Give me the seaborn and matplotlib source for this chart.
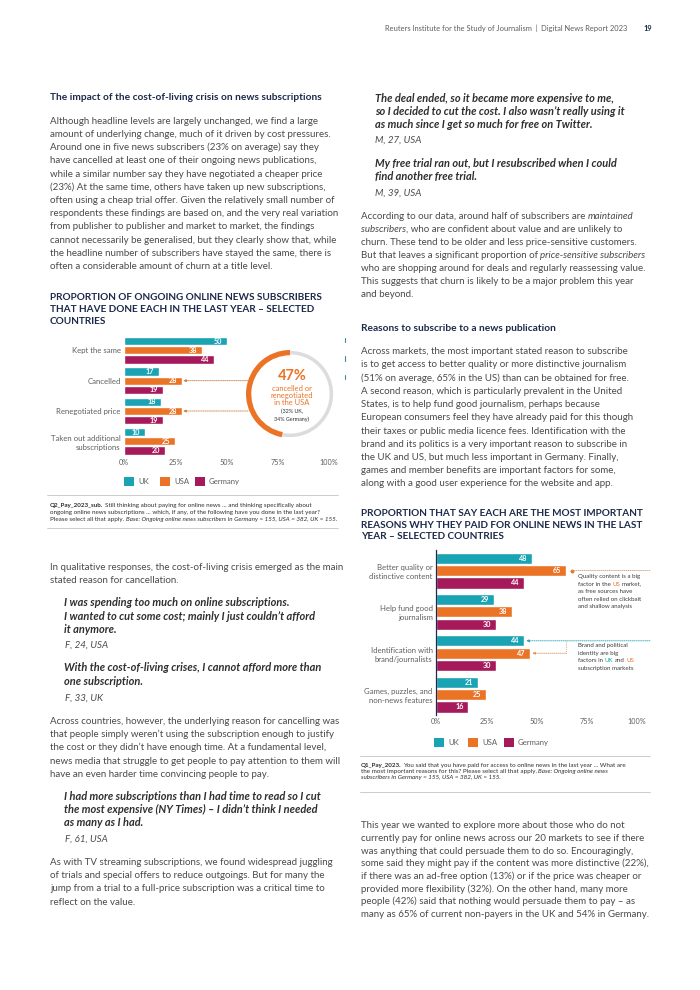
import numpy as np
import pandas as pd
import seaborn as sns
import matplotlib
matplotlib.use("Agg")
import matplotlib.pyplot as plt
import matplotlib.transforms as mtransforms
from matplotlib.patches import Rectangle, Wedge
from matplotlib.lines import Line2D

# page size in pixels (dpi 100)
W, H = 700, 990

# chart 1: what ongoing subscribers did in the last year
actions = ["Kept the same", "Cancelled", "Renegotiated price",
           "Taken out additional\nsubscriptions"]
countries = ["UK", "USA", "Germany"]
uk_actions = [50, 17, 18, 10]
usa_actions = [38, 28, 28, 25]
de_actions = [44, 19, 19, 20]
usa_churn = 47
uk_churn = 32
de_churn = 34

# chart 2: most important reasons for paying
reasons = ["Better quality or\ndistinctive content", "Help fund good\njournalism",
           "Identification with\nbrand/journalists", "Games, puzzles, and\nnon-news features"]
uk_reasons = [48, 29, 44, 21]
usa_reasons = [65, 38, 47, 25]
de_reasons = [44, 30, 30, 16]

x_ticks = [0, 25, 50, 75, 100]
x_tick_labels = ["0%", "25%", "50%", "75%", "100%"]

palette = {"UK": "#1aa3b3", "USA": "#eb7326", "Germany": "#a6195a"}
NAVY = "#1c2a4b"
BODY = "#4a4a4a"
QUOTE = "#2f2f2f"
GREY = "#5e5e5e"
RULE = "#c4c4c4"

# text sizes
BODY_SZ = 7.0
QUOTE_SZ = 7.9
HEAD_SZ = 7.3
TITLE_SZ = 7.2

sns.set_style("white")
plt.rcParams["font.family"] = ["Lato", "DejaVu Sans"]

fig = plt.figure(figsize=(W / 100, H / 100), dpi=100)
fig.patch.set_facecolor("white")
renderer = fig.canvas.get_renderer()


def fx(x):
    return x / W


def fy(y):
    return 1 - y / H


def put(x, y, s, size=BODY_SZ, color=BODY, weight="normal", style="normal", ha="left"):
    return fig.text(fx(x), fy(y + size * 0.45), s, fontsize=size, color=color,
                    fontweight=weight, fontstyle=style, ha=ha, va="baseline")


def ink_width(s, size, weight, style):
    t = fig.text(0, 0, s, fontsize=size, fontweight=weight, fontstyle=style)
    w = t.get_window_extent(renderer).width
    t.remove()
    return w


def advance(s, size, weight, style):
    # pen advance of a string, bearings included
    return ink_width(s + "n", size, weight, style) - ink_width("n", size, weight, style)


def rich(x, y, parts, size=BODY_SZ, color=BODY):
    # draw a line made of differently styled pieces, one after another
    for s, opts in parts:
        o = dict(color=color)
        o.update(opts)
        wt, st = o.get("weight", "normal"), o.get("style", "normal")
        n = len(s) - len(s.lstrip(" "))
        if n:
            sp = ink_width("n n", size, wt, st) - ink_width("nn", size, wt, st)
            x += n * sp
        s = s.lstrip(" ")
        put(x, y, s, size=size, **o)
        x += advance(s, size, wt, st)


def block(x, y0, step, lines, size=BODY_SZ, color=BODY, weight="normal", style="normal"):
    for i, ln in enumerate(lines):
        if isinstance(ln, list):
            rich(x, y0 + i * step, ln, size=size, color=color)
        else:
            put(x, y0 + i * step, ln, size=size, color=color, weight=weight, style=style)


def hline(x0, x1, y, color=RULE, lw=0.6):
    fig.add_artist(Line2D([fx(x0), fx(x1)], [fy(y), fy(y)], color=color, lw=lw))


def legend_row(xs, y):
    for x, lab in zip(xs, countries):
        fig.add_artist(Rectangle((fx(x), fy(y + 4.5)), 10 / W, 9 / H,
                                 transform=fig.transFigure, color=palette[lab], lw=0))
        put(x + 14, y, lab, size=5.6, color=GREY)


def bar_chart(ax, cats, uk, usa, de, key):
    df = pd.DataFrame({key: cats, "UK": uk, "USA": usa, "Germany": de})
    df = df.melt(id_vars=key, var_name="country", value_name="share")
    sns.barplot(data=df, x="share", y=key, hue="country", hue_order=countries,
                palette=palette, width=0.9, gap=0.1, saturation=1, legend=False, ax=ax)
    for cont in ax.containers:
        labels = ax.bar_label(cont, fmt="%d", padding=-3.5, color="white",
                              fontsize=5.2, fontweight="bold")
        for t in labels:
            t.set_ha("right")
    ax.set_xlim(0, 100)
    ax.set_ylim(len(cats) - 0.5, -0.5)
    ax.set_xticks(x_ticks, x_tick_labels)
    ax.set_xlabel("")
    ax.set_ylabel("")
    ax.tick_params(axis="x", length=0, pad=2, labelsize=5.2, labelcolor=GREY)
    ax.tick_params(axis="y", length=0, pad=2.6, labelsize=5.6, labelcolor=GREY)
    for lab in ax.get_yticklabels():
        lab.set_linespacing(1.35)
    ax.set_facecolor("none")


# header
put(385, 29, "Reuters Institute for the Study of Journalism  |  Digital News Report 2023",
    size=5.4, color=GREY)
put(643, 29, "19", size=5.4, color=NAVY, weight="bold")

# ---------------- left column ----------------
put(50, 96.7, "The impact of the cost-of-living crisis on news subscriptions",
    size=HEAD_SZ, color=NAVY, weight="bold")
block(50, 120.7, 13.2, [
    "Although headline levels are largely unchanged, we find a large",
    "amount of underlying change, much of it driven by cost pressures.",
    "Around one in five news subscribers (23% on average) say they",
    "have cancelled at least one of their ongoing news publications,",
    "while a similar number say they have negotiated a cheaper price",
    "(23%) At the same time, others have taken up new subscriptions,",
    "often using a cheap trial offer. Given the relatively small number of",
    "respondents these findings are based on, and the very real variation",
    "from publisher to publisher and market to market, the findings",
    "cannot necessarily be generalised, but they clearly show that, while",
    "the headline number of subscribers have stayed the same, there is",
    "often a considerable amount of churn at a title level.",
])

block(50, 296.7, 12, [
    "PROPORTION OF ONGOING ONLINE NEWS SUBSCRIBERS",
    "THAT HAVE DONE EACH IN THE LAST YEAR – SELECTED",
    "COUNTRIES",
], size=TITLE_SZ, color=NAVY, weight="bold")

ax1 = fig.add_axes([fx(124.3), fy(456.5), (329 - 124.3) / W, (456.5 - 335.2) / H])
bar_chart(ax1, actions, uk_actions, usa_actions, de_actions, "action")
sns.despine(ax=ax1, left=True, bottom=True)

# ring callout
axr = fig.add_axes([fx(246), fy(438), 88 / W, 88 / H])
axr.set_xlim(-1, 1)
axr.set_ylim(-1, 1)
axr.set_aspect("equal")
axr.axis("off")
ang = usa_churn / 100 * 360
axr.add_patch(Wedge((0, 0), 0.98, 90 + ang, 450, width=0.08, color="#dcdcdc", lw=0))
axr.add_patch(Wedge((0, 0), 1.0, 90, 90 + ang, width=0.12, color=palette["USA"], lw=0))
put(292, 375, f"{usa_churn}%", size=10.5, color=palette["USA"], weight="bold", ha="center")
for i, ln in enumerate(["cancelled or", "renegotiated", "in the USA"]):
    put(292, 388.3 + i * 7.2, ln, size=5.4, color=palette["USA"], ha="center")
put(292, 411.7, f"({uk_churn}% UK,", size=3.9, color=QUOTE, ha="center")
put(292, 419.3, f"{de_churn}% Germany)", size=3.9, color=QUOTE, ha="center")

blend1 = mtransforms.blended_transform_factory(fig.transFigure, ax1.transData)
for p in [ax1.containers[1][1], ax1.containers[1][2]]:
    yb = p.get_y() + p.get_height() / 2
    ax1.annotate("", xy=(p.get_width() + 0.8, yb), xytext=(fx(248), yb), textcoords=blend1,
                 arrowprops=dict(arrowstyle="-|>", color="#c9773a", lw=0.6,
                                 linestyle=(0, (1, 1.2)), mutation_scale=4,
                                 shrinkA=0, shrinkB=0))

for yy in [340, 358.3, 376.7]:
    fig.add_artist(Line2D([fx(345), fx(345)], [fy(yy - 2.2), fy(yy + 2.2)],
                          color="#3f8a94", lw=0.8))

legend_row([124, 160, 195], 481)
hline(47, 338, 495)
CAP1 = 4.5
rich(50, 505, [("Q2_Pay_2023_sub.", dict(weight="bold", color=QUOTE)),
               (" Still thinking about paying for online news ... and thinking specifically about", {})],
     size=CAP1, color=QUOTE)
put(50, 511.8, "ongoing online news subscriptions ... which, if any, of the following have you done in the last year?",
    size=CAP1, color=QUOTE)
rich(50, 518.6, [("Please select all that apply.", {}),
                 (" Base: Ongoing online news subscribers in Germany = 155, USA = 382, UK = 155.",
                  dict(style="italic"))], size=CAP1, color=QUOTE)
hline(47, 338, 528.3)

block(50, 567.3, 12.7, [
    "In qualitative responses, the cost-of-living crisis emerged as the main",
    "stated reason for cancellation.",
])
block(64, 602.7, 13.3, [
    "I was spending too much on online subscriptions.",
    "I wanted to cut some cost; mainly I just couldn’t afford",
    "it anymore.",
], size=QUOTE_SZ, color=QUOTE, weight="bold", style="italic")
put(65, 645, "F, 24, USA", style="italic")
block(64, 667.7, 13.3, [
    "With the cost-of-living crises, I cannot afford more than",
    "one subscription.",
], size=QUOTE_SZ, color=QUOTE, weight="bold", style="italic")
put(65, 697.7, "F, 33, UK", style="italic")
block(50, 720.7, 13.3, [
    "Across countries, however, the underlying reason for cancelling was",
    "that people simply weren’t using the subscription enough to justify",
    "the cost or they didn’t have enough time. At a fundamental level,",
    "news media that struggle to get people to pay attention to them will",
    "have an even harder time convincing people to pay.",
])
block(64, 796, 13.2, [
    "I had more subscriptions than I had time to read so I cut",
    "the most expensive (NY Times) – I didn’t think I needed",
    "as many as I had.",
], size=QUOTE_SZ, color=QUOTE, weight="bold", style="italic")
put(65, 838.3, "F, 61, USA", style="italic")
block(50, 861.7, 13.3, [
    "As with TV streaming subscriptions, we found widespread juggling",
    "of trials and special offers to reduce outgoings. But for many the",
    "jump from a trial to a full-price subscription was a critical time to",
    "reflect on the value.",
])

# ---------------- right column ----------------
block(375, 98.3, 13.1, [
    "The deal ended, so it became more expensive to me,",
    "so I decided to cut the cost. I also wasn’t really using it",
    "as much since I get so much for free on Twitter.",
], size=QUOTE_SZ, color=QUOTE, weight="bold", style="italic")
put(375, 140, "M, 27, USA", style="italic")
block(375, 163.3, 13, [
    "My free trial ran out, but I resubscribed when I could",
    "find another free trial.",
], size=QUOTE_SZ, color=QUOTE, weight="bold", style="italic")
put(375, 192.3, "M, 39, USA", style="italic")
block(361, 215.7, 12.95, [
    [("According to our data, around half of subscribers are", {}),
     (" maintained", dict(style="italic"))],
    [("subscribers", dict(style="italic")),
     (", who are confident about value and are unlikely to", {})],
    "churn. These tend to be older and less price-sensitive customers.",
    [("But that leaves a significant proportion of", {}),
     (" price-sensitive subscribers", dict(style="italic"))],
    "who are shopping around for deals and regularly reassessing value.",
    "This suggests that churn is likely to be a major problem this year",
    "and beyond.",
])

put(361, 327.3, "Reasons to subscribe to a news publication", size=HEAD_SZ, color=NAVY, weight="bold")
block(361, 351, 13.23, [
    "Across markets, the most important stated reason to subscribe",
    "is to get access to better quality or more distinctive journalism",
    "(51% on average, 65% in the US) than can be obtained for free.",
    "A second reason, which is particularly prevalent in the United",
    "States, is to help fund good journalism, perhaps because",
    "European consumers feel they have already paid for this though",
    "their taxes or public media licence fees. Identification with the",
    "brand and its politics is a very important reason to subscribe in",
    "the UK and US, but much less important in Germany. Finally,",
    "games and member benefits are important factors for some,",
    "along with a good user experience for the website and app.",
])

block(361, 513, 11.5, [
    "PROPORTION THAT SAY EACH ARE THE MOST IMPORTANT",
    "REASONS WHY THEY PAID FOR ONLINE NEWS IN THE LAST",
    "YEAR – SELECTED COUNTRIES",
], size=TITLE_SZ, color=NAVY, weight="bold")

ax2 = fig.add_axes([fx(436.3), fy(715.2), 200 / W, (715.2 - 549.9) / H])
bar_chart(ax2, reasons, uk_reasons, usa_reasons, de_reasons, "reason")
sns.despine(ax=ax2, left=False, bottom=True)
ax2.spines["left"].set_color(NAVY)
ax2.spines["left"].set_linewidth(0.9)

blend2 = mtransforms.blended_transform_factory(fig.transFigure, ax2.transData)
usa_better = ax2.containers[1][0]
uk_ident = ax2.containers[0][2]
usa_ident = ax2.containers[1][2]


def mid(p):
    return p.get_y() + p.get_height() / 2


dots = (0, (1, 1.3))
ax2.annotate("", xy=(usa_better.get_width() + 2.8, mid(usa_better)), xytext=(fx(650), mid(usa_better)),
             textcoords=blend2, arrowprops=dict(arrowstyle="-", color="#c9a07a", lw=0.6,
                                                linestyle=dots, shrinkA=0, shrinkB=0))
ax2.plot(usa_better.get_width() + 2.8, mid(usa_better), "o", ms=1.8, color=palette["USA"], clip_on=False)
ax2.annotate("", xy=(uk_ident.get_width() + 1.0, mid(uk_ident)), xytext=(fx(650), mid(uk_ident)),
             textcoords=blend2, arrowprops=dict(arrowstyle="-|>", color=palette["UK"], lw=0.6,
                                                linestyle=dots, mutation_scale=4, shrinkA=0, shrinkB=0))
xb = usa_better.get_width()
ax2.plot([xb, xb], [mid(uk_ident), mid(usa_ident)], color="#d9925c", lw=0.6,
         linestyle=dots, clip_on=False)
ax2.annotate("", xy=(usa_ident.get_width() + 1.0, mid(usa_ident)), xytext=(xb, mid(usa_ident)),
             arrowprops=dict(arrowstyle="-|>", color="#d9925c", lw=0.6,
                             linestyle=dots, mutation_scale=4, shrinkA=0, shrinkB=0))

NOTE = "#3c3c3c"
block(578, 576, 7.6, [
    "Quality content is a big",
    [("factor in the", {}), (" US", dict(color=palette["USA"])), (" market,", {})],
    "as free sources have",
    "often relied on clickbait",
    "and shallow analysis",
], size=4.4, color=NOTE)
block(578, 645, 7.6, [
    "Brand and political",
    "identity are big",
    [("factors in", {}), (" UK", dict(color=palette["UK"])), (" and", {}),
     (" US", dict(color=palette["USA"]))],
    "subscription markets",
], size=4.4, color=NOTE)

legend_row([434, 468, 504], 742)
hline(360, 650, 756)
CAP2 = 4.5
rich(361, 765, [("Q1_Pay_2023.", dict(weight="bold", color=QUOTE)),
                (" You said that you have paid for access to online news in the last year ... What are", {})],
     size=CAP2, color=QUOTE)
rich(361, 771.2, [("the most important reasons for this? Please select all that apply.", {}),
                  (" Base: Ongoing online news", dict(style="italic"))], size=CAP2, color=QUOTE)
put(361, 777.4, "subscribers in Germany = 155, USA = 382, UK = 155.", size=CAP2, color=QUOTE, style="italic")
hline(360, 650, 791.7)

block(361, 825, 12.7, [
    "This year we wanted to explore more about those who do not",
    "currently pay for online news across our 20 markets to see if there",
    "was anything that could persuade them to do so. Encouragingly,",
    "some said they might pay if the content was more distinctive (22%),",
    "if there was an ad-free option (13%) or if the price was cheaper or",
    "provided more flexibility (32%). On the other hand, many more",
    "people (42%) said that nothing would persuade them to pay – as",
    "many as 65% of current non-payers in the UK and 54% in Germany.",
])

fig.savefig("out.png", dpi=100, facecolor="white")
